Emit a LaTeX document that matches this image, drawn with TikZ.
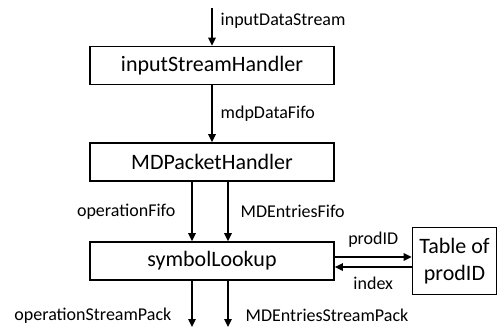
\documentclass[tikz,border=0pt]{standalone}
\usepackage{fontspec}
\setmainfont{Carlito}
\usepackage{tikz}
\usetikzlibrary{
  arrows.meta,
  positioning
}
\tikzset{
    block/.style={rectangle, draw=black, line width=1.8pt, minimum width=244pt, minimum height=38pt, inner sep=0pt, font=\fontsize{22}{27}\selectfont},
    flow/.style={-{Triangle[length=8pt, width=7.5pt]}, line width=1.4pt},
    lbl/.style={font=\fontsize{18}{21}\selectfont, inner sep=0pt}
}

\begin{document}
\begin{tikzpicture}[x=1pt, y=-1pt]
    \useasboundingbox (0,0) rectangle (498,327);
    % processing blocks
    \node[block] (ish) at (212,65.5) {inputStreamHandler};
    \node[block] (mdp) at (212,162) {MDPacketHandler};
    \node[block] (sym) at (212,261) {symbolLookup};
    \node[block, minimum width=84pt, minimum height=67pt, align=center] (tab) at (454.5,261) {Table of\\prodID};
    % free ends
    \coordinate (in) at (212,8);
    \coordinate (opout) at (192,327);
    \coordinate (mdout) at (228,327);
    % connectors
    \draw[flow] (in) -- (ish.north) node[lbl, pos=0.35, anchor=west, xshift=8pt] {inputDataStream};
    \draw[flow] (ish.south) -- (mdp.north) node[lbl, midway, anchor=west, xshift=8pt] {mdpDataFifo};
    \draw[flow] ([xshift=-20pt]mdp.south) -- ([xshift=-20pt]sym.north) node[lbl, midway, anchor=east, xshift=-16pt] {operationFifo};
    \draw[flow] ([xshift=16pt]mdp.south) -- ([xshift=16pt]sym.north) node[lbl, midway, anchor=west, xshift=12pt] {MDEntriesFifo};
    \draw[flow] ([xshift=-20pt]sym.south) -- (opout) node[lbl, pos=0.75, anchor=east, xshift=-20pt] {operationStreamPack};
    \draw[flow] ([xshift=16pt]sym.south) -- (mdout) node[lbl, pos=0.75, anchor=west, xshift=17pt] {MDEntriesStreamPack};
    \draw[flow] ([yshift=4pt]sym.east) -- ([yshift=4pt]tab.west) node[lbl, midway, above=9pt] {prodID};
    \draw[flow] ([yshift=-6pt]tab.west) -- ([yshift=-6pt]sym.east) node[lbl, midway, below=9pt] {index};
\end{tikzpicture}
\end{document}
